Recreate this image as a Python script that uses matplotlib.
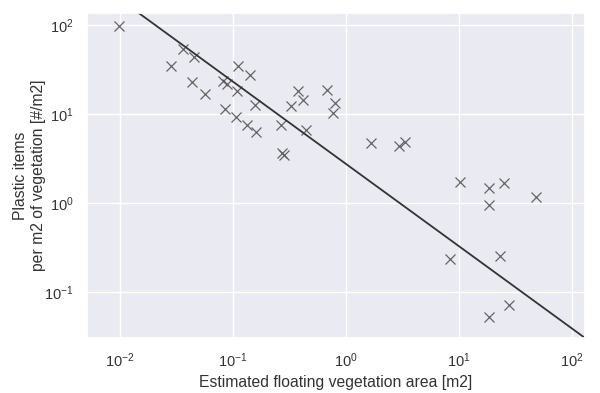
import numpy as np
import matplotlib
matplotlib.use("Agg")
import matplotlib.pyplot as plt
import seaborn as sns

sns.set_theme(style="darkgrid")
plt.rcParams['font.family'] = ['Liberation Sans', 'DejaVu Sans']

# Estimated floating vegetation area [m2]
area = [0.0098, 0.0366, 0.0455, 0.0281, 0.0431, 0.0573, 0.0820, 0.0891,
        0.1122, 0.1432, 0.1091, 0.0861, 0.1057, 0.1556, 0.1321, 0.1589,
        0.2642, 0.2698, 0.2844, 0.3243, 0.3733, 0.4188, 0.4395, 0.6792,
        0.8000, 0.7674,
        1.663, 2.944, 3.327, 10.21, 18.41, 25.00, 18.41, 48.31, 8.318,
        23.07, 27.67, 18.41]
# Plastic items per m2 of vegetation [#/m2]
density = [97.7, 54.2, 43.4, 34.6, 22.9, 16.6, 23.5, 21.7,
           34.9, 27.4, 18.3, 11.5, 9.3, 12.6, 7.5, 6.2,
           7.5, 3.6, 3.5, 12.3, 18.3, 14.3, 6.6, 18.6,
           13.4, 10.3,
           4.7, 4.4, 4.9, 1.72, 1.46, 1.69, 0.95, 1.17, 0.235,
           0.256, 0.071, 0.053]

# power-law fit: density = a * area^b
fit_a = 2.75
fit_b = -0.925

fig, ax = plt.subplots(figsize=(6, 3.93), dpi=100)
fig.subplots_adjust(left=0.145, right=0.975, top=0.967, bottom=0.14)

ax.plot(area, density, 'x', color='#555555', markersize=7, markeredgewidth=0.9,
        alpha=0.9)

x_fit = np.logspace(-3, 3, 50)
ax.plot(x_fit, fit_a * x_fit**fit_b, color='#333333', linewidth=1.3)

ax.set_xscale('log')
ax.set_yscale('log')
ax.set_xlim(10**-2.29, 10**2.115)
ax.set_ylim(10**-1.517, 10**2.135)
ax.tick_params(labelsize=10.5, labelcolor='#333333')
ax.minorticks_off()

ax.set_xlabel('Estimated floating vegetation area [m2]', fontsize=11.3,
              color='#333333')
ax.set_ylabel('Plastic items\nper m2 of vegetation [#/m2]', fontsize=11.3,
              color='#333333', labelpad=-1)

fig.savefig('out.png')
